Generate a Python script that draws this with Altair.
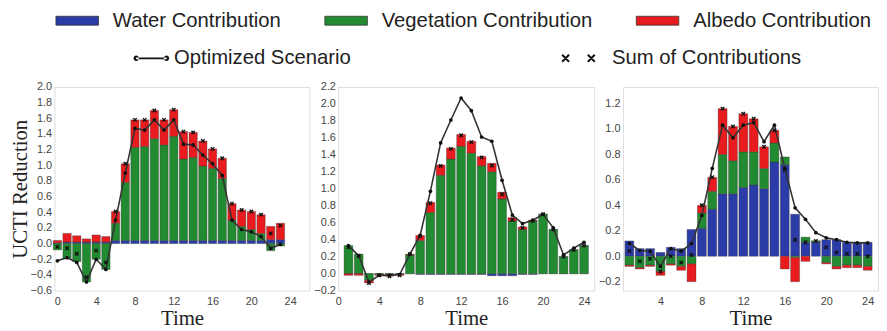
import altair as alt
import pandas as pd

COMP = ["Water Contribution", "Vegetation Contribution", "Albedo Contribution"]
COLORS = ["#2b3ca8", "#228a30", "#e81c1e"]
OPT_LABEL = "Optimized Scenario"
SUM_LABEL = "Sum of Contributions"

# ---- Panel 1 (hours 0..23)
hours1 = list(range(0, 24))
water1 = [0.01, 0.02, 0.02, 0.02, 0.02, 0.02, 0.04, 0.04, 0.04, 0.04, 0.04, 0.04,
          0.04, 0.04, 0.04, 0.04, 0.04, 0.04, 0.04, 0.04, 0.04, 0.04, 0.05, 0.05]
veg1 = [-0.08, -0.19, -0.23, -0.49, -0.20, -0.33, 0.22, 0.74, 1.19, 1.20, 1.30, 1.22,
        1.33, 1.04, 1.06, 0.95, 0.92, 0.79, 0.26, 0.18, 0.14, 0.09, -0.09, -0.03]
alb1 = [0.03, 0.11, 0.08, 0.04, 0.09, 0.07, 0.15, 0.24, 0.35, 0.34, 0.36, 0.32,
        0.34, 0.35, 0.32, 0.32, 0.25, 0.26, 0.21, 0.21, 0.23, 0.24, 0.17, 0.21]
opt1 = [-0.22, -0.18, -0.24, -0.49, -0.20, -0.33, 0.30, 0.90, 1.47, 1.45, 1.58, 1.45,
        1.58, 1.27, 1.26, 1.13, 1.02, 0.87, 0.30, 0.18, 0.15, 0.09, -0.06, -0.01]

# ---- Panel 2 (hours 1..24)
hours2 = list(range(1, 25))
water2 = [0.0, 0.0, 0.0, 0.0, 0.0, 0.0, 0.0, -0.01, -0.01, -0.01, -0.01, -0.01,
          -0.01, -0.01, -0.025, -0.025, -0.025, -0.01, -0.01, 0.0, 0.0, 0.0, 0.0, 0.0]
veg2 = [0.33, 0.23, -0.08, -0.01, -0.01, -0.01, 0.22, 0.39, 0.72, 1.16, 1.35, 1.50,
        1.42, 1.27, 1.20, 0.88, 0.62, 0.52, 0.62, 0.70, 0.52, 0.20, 0.28, 0.33]
alb2 = [-0.02, -0.02, -0.03, -0.01, -0.02, -0.01, 0.01, 0.06, 0.12, 0.12, 0.13, 0.14,
        0.14, 0.11, 0.10, 0.08, 0.04, 0.03, 0.01, 0.0, 0.0, 0.0, 0.0, 0.0]
opt2 = [0.33, 0.21, -0.10, -0.02, -0.02, -0.01, 0.23, 0.45, 0.97, 1.54, 1.81, 2.07,
        1.92, 1.61, 1.56, 1.10, 0.69, 0.59, 0.63, 0.70, 0.54, 0.22, 0.30, 0.37]

# ---- Panel 3 (hours 1..24)
hours3 = list(range(1, 25))
water3 = [0.12, 0.06, 0.06, 0.03, 0.07, 0.06, 0.21, 0.22, 0.37, 0.49, 0.49, 0.54,
          0.56, 0.53, 0.74, 0.72, 0.33, 0.11, 0.11, 0.13, 0.13, 0.11, 0.11, 0.11]
veg3 = [-0.07, -0.09, -0.07, -0.12, -0.06, -0.08, -0.06, 0.12, 0.14, 0.31, 0.26, 0.28,
        0.26, 0.16, 0.15, 0.06, -0.01, 0.04, 0.01, -0.05, -0.08, -0.07, -0.07, -0.08]
alb3 = [-0.01, -0.01, -0.01, -0.03, -0.01, -0.03, -0.14, 0.06, 0.11, 0.36, 0.27, 0.30,
        0.26, 0.17, 0.10, -0.10, -0.19, -0.04, 0.0, -0.01, -0.02, -0.02, -0.02, -0.03]
opt3 = [0.10, 0.045, 0.04, -0.08, 0.06, 0.04, 0.10, 0.32, 0.69, 1.03, 0.93, 1.03,
        1.05, 0.90, 1.03, 0.69, 0.38, 0.29, 0.185, 0.145, 0.13, 0.11, 0.105, 0.105]

xticks12 = [0, 4, 8, 12, 16, 20, 24]
xticks3 = [4, 8, 12, 16, 20, 24]
yticks1 = [round(-0.6 + 0.2 * i, 1) for i in range(14)]
yticks2 = [round(-0.2 + 0.2 * i, 1) for i in range(13)]
yticks3 = [round(-0.2 + 0.2 * i, 1) for i in range(8)]

SANS = "Liberation Sans"
SERIF = "Liberation Serif"

# legend symbols: drawn larger than their 20px layout box
RECT_PATH = "M-2.15,-0.45L2.15,-0.45L2.15,0.45L-2.15,0.45Z"
OPT_PATH = ("M-1.55,-0.09L1.55,-0.09L1.55,0.09L-1.55,0.09Z"
            "M-1.8,0a0.27,0.27 0 1,0 0.54,0a0.27,0.27 0 1,0 -0.54,0Z"
            "M1.26,0a0.27,0.27 0 1,0 0.54,0a0.27,0.27 0 1,0 -0.54,0Z")
XX_PATH = ("M-1.65,-0.35L-0.95,0.35M-1.65,0.35L-0.95,-0.35"
           "M0.95,-0.35L1.65,0.35M0.95,0.35L1.65,-0.35")
X_PATH = "M-1,-1L1,1M-1,1L1,-1"

common_leg = dict(title=None, orient="none", direction="horizontal", symbolSize=400,
                  symbolOpacity=1, labelFont=SANS, labelFontSize=20.5, labelColor="#222",
                  labelLimit=400, padding=0)
leg_color = alt.Legend(legendX=12.5, legendY=-77.5, symbolType=RECT_PATH,
                       symbolStrokeColor="#333", symbolStrokeWidth=0.8,
                       labelOffset=25.5, columnPadding=42, **common_leg)
leg_fill = alt.Legend(legendX=87, legendY=-40, symbolType=OPT_PATH,
                      labelOffset=12, **common_leg)
leg_stroke = alt.Legend(legendX=519, legendY=-40, symbolType=XX_PATH,
                        symbolStrokeWidth=2, labelOffset=23, **common_leg)


def long_df(hours, w, v, a):
    rows = []
    for h, x1, x2, x3 in zip(hours, w, v, a):
        for i, (name, val) in enumerate(zip(COMP, (x1, x2, x3))):
            rows.append({"hour": h, "component": name, "order": i, "value": val})
    return pd.DataFrame(rows)


def panel(hours, w, v, a, opt, xdom, ydom, xticks, yticks, width, ytitle):
    bars_df = long_df(hours, w, v, a)
    line_df = pd.DataFrame({"hour": hours, "opt": opt, "series": [OPT_LABEL] * len(hours)})

    xs = alt.Scale(domain=xdom, nice=False, zero=False)
    ys = alt.Scale(domain=ydom, nice=False, zero=False)
    xaxis = alt.Axis(values=xticks, title="Time", grid=False, ticks=False, domain=False,
                     labelFont=SANS, labelFontSize=11, labelColor="#444", labelPadding=5,
                     titleFont=SERIF, titleFontSize=21, titleFontWeight="normal",
                     titleColor="#222", titlePadding=1, labelFlush=False)
    yaxis = alt.Axis(values=yticks, title=ytitle if ytitle else None, format=".1f",
                     grid=False, ticks=False, domain=False,
                     labelFont=SANS, labelFontSize=11, labelColor="#444", labelPadding=3,
                     titleFont=SERIF, titleFontSize=21, titleFontWeight="normal",
                     titleColor="#222", titlePadding=0, labelFlush=False)

    def X(field):
        return alt.X(field, scale=xs, axis=xaxis)

    def Y(field):
        return alt.Y(field, scale=ys, axis=yaxis)

    bars = alt.Chart(bars_df).transform_stack(
        stack="value", as_=["y0", "y1"], groupby=["hour"], sort=[alt.SortField("order")]
    ).transform_calculate(
        xl="datum.hour - 0.43", xr="datum.hour + 0.43"
    ).mark_bar(stroke="#333", strokeWidth=0.5, strokeOpacity=0.7).encode(
        x=X("xl:Q"), x2="xr:Q", y=Y("y0:Q"), y2="y1:Q",
        color=alt.Color("component:N", scale=alt.Scale(domain=COMP, range=COLORS),
                        legend=leg_color),
    )

    line = alt.Chart(line_df).mark_line(color="#333", strokeWidth=1.6).encode(
        x=X("hour:Q"), y=Y("opt:Q")
    )
    dots = alt.Chart(line_df).mark_circle(size=14, opacity=1).encode(
        x=X("hour:Q"), y=Y("opt:Q"),
        fill=alt.Fill("series:N", scale=alt.Scale(domain=[OPT_LABEL], range=["#111"]),
                      legend=leg_fill),
    )
    sums = alt.Chart(bars_df).transform_aggregate(
        total="sum(value)", groupby=["hour"]
    ).transform_calculate(
        lab="'" + SUM_LABEL + "'"
    ).mark_point(shape=X_PATH, filled=False, size=12, strokeWidth=1.4, opacity=1).encode(
        x=X("hour:Q"), y=Y("total:Q"),
        stroke=alt.Stroke("lab:N", scale=alt.Scale(domain=[SUM_LABEL], range=["#111"]),
                          legend=leg_stroke),
    )
    return alt.layer(bars, line, dots, sums).properties(width=width, height=206)


p1 = panel(hours1, water1, veg1, alb1, opt1, [-0.3, 26.0], [-0.6, 2.0], xticks12, yticks1,
           258, "UCTI Reduction")
p2 = panel(hours2, water2, veg2, alb2, opt2, [0.0, 25.0], [-0.2, 2.2], xticks12, yticks2,
           259, None)
p3 = panel(hours3, water3, veg3, alb3, opt3, [0.38, 25.0], [-0.27, 1.33], xticks3, yticks3,
           258, None)

chart = alt.hconcat(p1, p2, p3, spacing=29, bounds="flush").properties(
    padding=0
).configure_view(
    stroke="#999", strokeWidth=1.5
).configure(background="white")

chart.save("out.html", embed_options={"renderer": "svg", "actions": False})
